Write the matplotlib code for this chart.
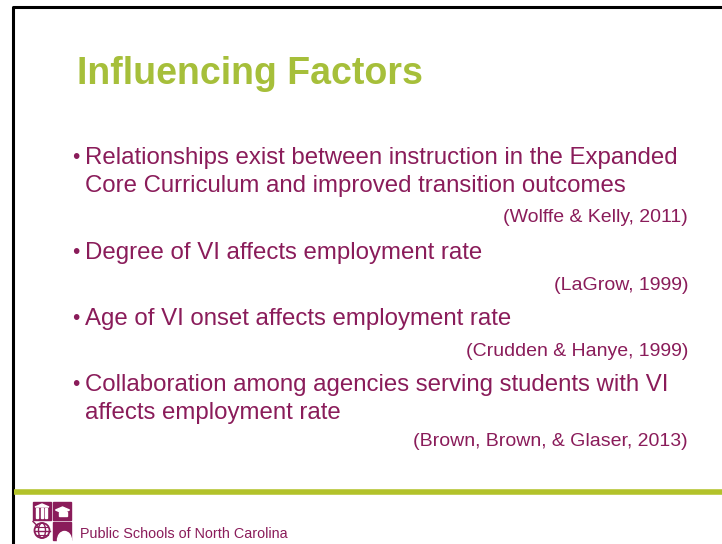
import matplotlib.pyplot as plt
from matplotlib.patches import Rectangle, Circle, Polygon, Ellipse

plt.rcParams['font.family'] = ['Liberation Sans', 'DejaVu Sans']

# slide content
title = "Influencing Factors"
bullets = [
    ["Relationships exist between instruction in the Expanded",
     "Core Curriculum and improved transition outcomes"],
    ["Degree of VI affects employment rate"],
    ["Age of VI onset affects employment rate"],
    ["Collaboration among agencies serving students with VI",
     "affects employment rate"],
]
citations = [
    "(Wolffe & Kelly, 2011)",
    "(LaGrow, 1999)",
    "(Crudden & Hanye, 1999)",
    "(Brown, Brown, & Glaser, 2013)",
]
footer = "Public Schools of North Carolina"

# layout (pixel baselines of each bullet's first line, citation centres)
bullet_base = [164, 259, 325, 391]
cite_y = [217, 286, 351, 441]
line_gap = 28

maroon = "#8a1c5a"
green = "#a6bf3a"
rule_green = "#b2c22a"

W, H = 722, 544
fig = plt.figure(figsize=(W / 100, H / 100), dpi=100)
ax = fig.add_axes([0, 0, 1, 1])
ax.set_xlim(0, W)
ax.set_ylim(H, 0)
ax.axis("off")

# slide frame
ax.plot([12.5, 12.5, W + 5], [H + 5, 6.5, 6.5], color="black", lw=2.2,
        solid_capstyle="butt")
ax.plot([13.5, W], [492, 492], color=rule_green, lw=4.0, solid_capstyle="butt")

ax.text(77, 84, title, fontsize=27, fontweight="bold", color=green,
        va="baseline", ha="left")

for lines, y0 in zip(bullets, bullet_base):
    ax.text(72, y0 - 1, "\u2022", fontsize=15, color=maroon, va="baseline",
            ha="left")
    for k, line in enumerate(lines):
        ax.text(85, y0 + k * line_gap, line, fontsize=17.3, color=maroon,
                va="baseline", ha="left")

for c, y in zip(citations, cite_y):
    ax.text(688, y, c, fontsize=14, color=maroon, va="center", ha="right")

# logo: 2x2 tiles
lx, ly, s, g = 33, 502, 18, 1.5
tx = lx + s + g
by = ly + s + g
# top-left: white columns on maroon
ax.add_patch(Rectangle((lx, ly), s, s, color=maroon))
ax.add_patch(Polygon([[lx + 2, ly + 5], [lx + 9, ly + 2], [lx + 16, ly + 5]],
                     closed=True, color="white"))
for i in range(3):
    ax.add_patch(Rectangle((lx + 3 + i * 4.5, ly + 6), 2.2, 10, color="white"))
# top-right: white cap on maroon
ax.add_patch(Rectangle((tx, ly), s, s, color=maroon))
ax.add_patch(Polygon([[tx + 3, ly + 8], [tx + 10, ly + 5], [tx + 17, ly + 8],
                      [tx + 10, ly + 11]], closed=True, color="white"))
ax.add_patch(Rectangle((tx + 6, ly + 10), 8, 4, color="white"))
# bottom-left: globe
ax.add_patch(Circle((lx + 9, by + 9), 7.5, fill=False, ec=maroon, lw=1.3))
ax.add_patch(Ellipse((lx + 9, by + 9), 7, 15, fill=False, ec=maroon, lw=1.0))
ax.plot([lx + 1.5, lx + 16.5], [by + 9, by + 9], color=maroon, lw=1.0)
ax.plot([lx + 3, lx + 15], [by + 5, by + 5], color=maroon, lw=0.8)
ax.plot([lx + 3, lx + 15], [by + 13, by + 13], color=maroon, lw=0.8)
ax.plot([lx, lx + 5], [by, by + 5], color=maroon, lw=1.0)
# bottom-right: maroon tile with white hill
ax.add_patch(Rectangle((tx, by), s, s, color=maroon))
ax.add_patch(Ellipse((tx + 12, by + s + 1), 14, 18, color="white"))

ax.text(80, 534, footer, fontsize=10.4, color=maroon, va="center", ha="left")

fig.savefig("out.png", dpi=100)
